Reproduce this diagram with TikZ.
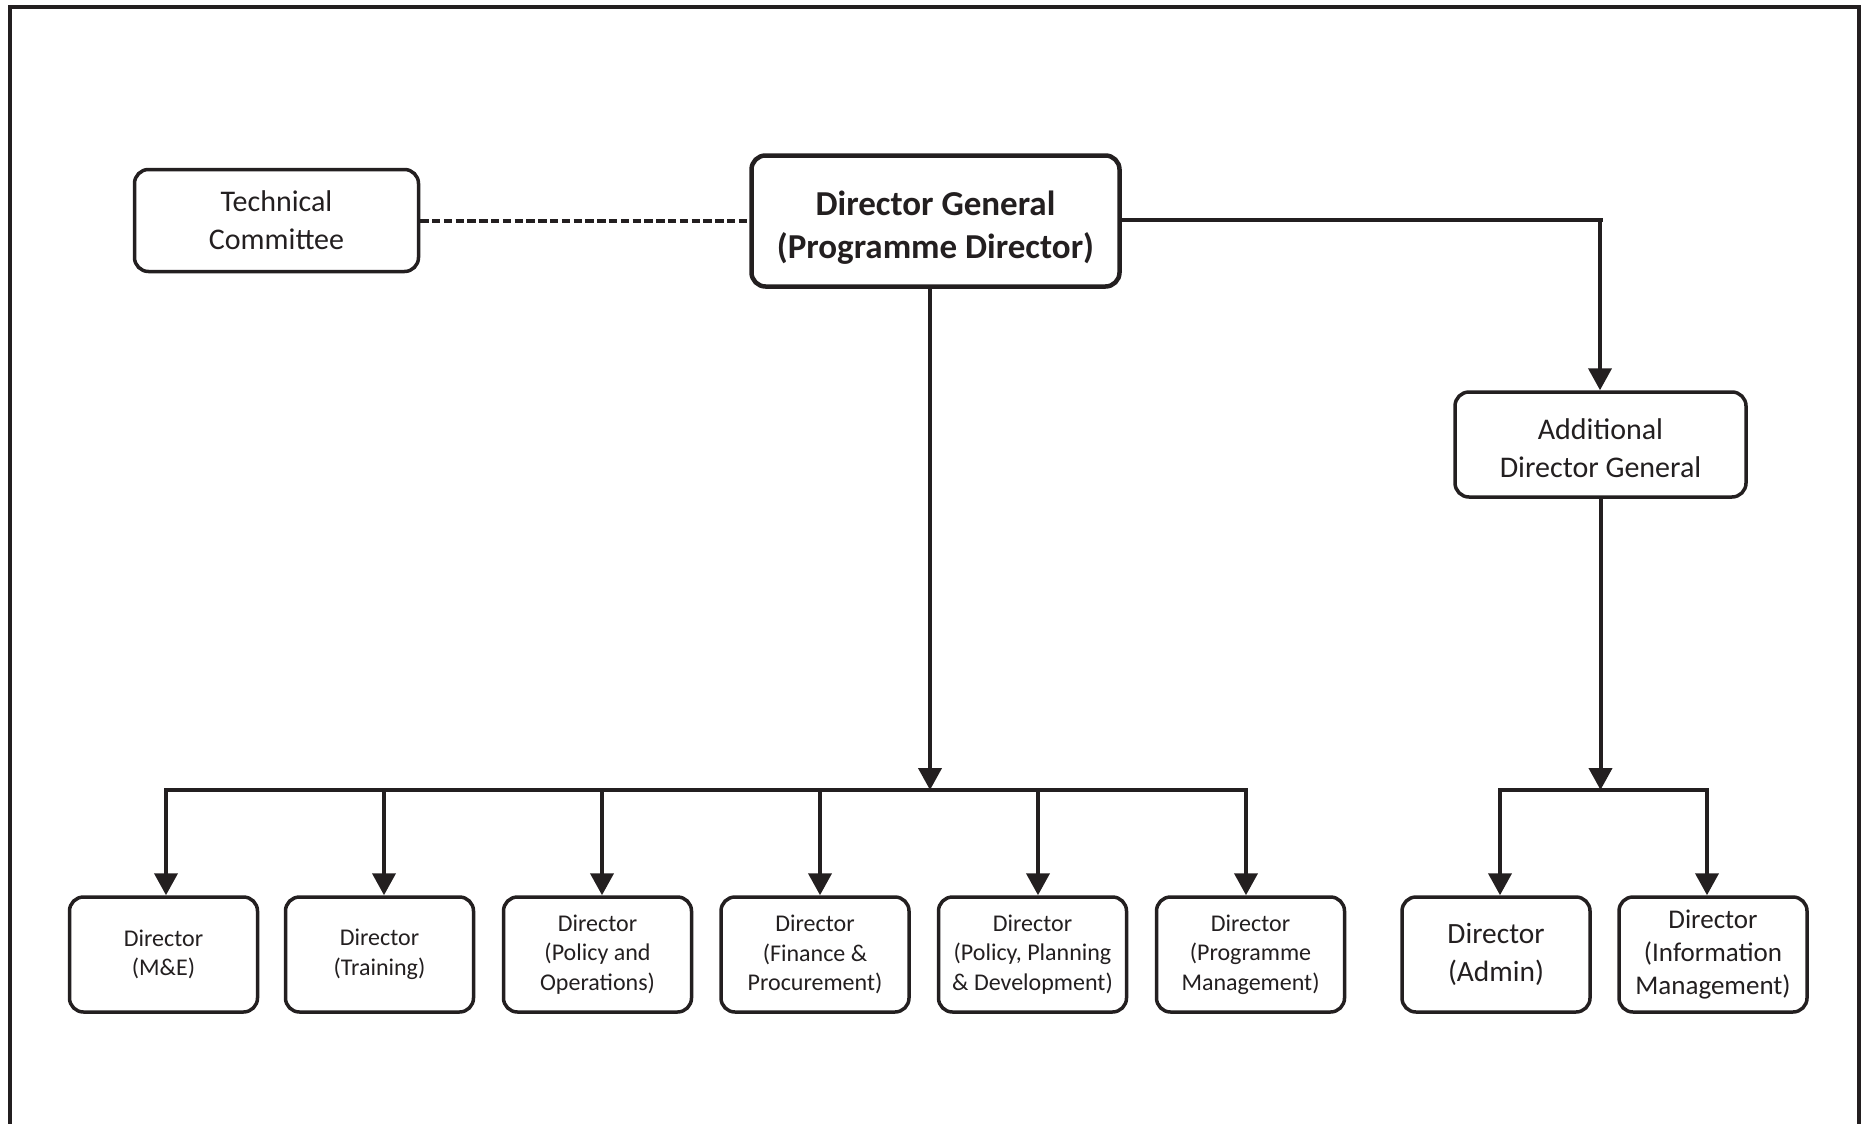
\documentclass[tikz,border=0pt]{standalone}
\usepackage{fontspec}
\setmainfont{Carlito}
\usetikzlibrary{arrows.meta}
\definecolor{ink}{RGB}{35,31,32}
\begin{document}
\begin{tikzpicture}[x=0.5pt,y=-0.5pt,
  box/.style={draw=ink, line width=1.75pt, rounded corners=7pt, align=center, text=ink, inner sep=0pt, fill=white},
  smallbox/.style={box, minimum width=94pt, minimum height=57.5pt, font=\fontsize{12}{14.85}\selectfont},
  conn/.style={draw=ink, line width=2pt},
  arr/.style={conn, -{Triangle[width=11.5pt,length=11pt]}},
  dashconn/.style={draw=ink, line width=2pt, dash pattern=on 4.2pt off 1.7pt}
]
\useasboundingbox (0,0) rectangle (1863,1124);
\draw[ink, line width=2pt] (9.7,1135) -- (9.7,7) -- (1859,7) -- (1859,1135);

\node[box, minimum width=142pt, minimum height=51pt, font=\fontsize{15}{19}\selectfont] (tc) at (276.5,220.5) {Technical\\Committee};
\node[box, line width=2.25pt, minimum width=184pt, minimum height=65.5pt] (dg) at (935.5,221) {};
\node[align=center, text=ink, inner sep=0pt, font=\fontsize{17.5}{21.4}\selectfont\bfseries] (dgtext) at ([yshift=-3.5pt]dg.center) {Director General\\(Programme Director)};
\node[box, minimum width=145.5pt, minimum height=52.5pt] (adg) at (1600.5,444.5) {};
\node[align=center, text=ink, inner sep=0pt, font=\fontsize{15}{19}\selectfont] (adgtext) at ([yshift=-1.8pt]adg.center) {Additional\\Director General};

\node[smallbox] (b1) at (163.5,954.5) {Director\\(M\&E)};
\node[smallbox] (b2) at (379.5,954.5) {Director\\(Training)};
\node[smallbox] (b3) at (597.5,954.5) {Director\\(Policy and\\Operations)};
\node[smallbox] (b4) at (815,954.5) {Director\\(Finance \&\\Procurement)};
\node[smallbox] (b5) at (1032.5,954.5) {Director\\(Policy, Planning\\\& Development)};
\node[smallbox] (b6) at (1250.5,954.5) {Director\\(Programme\\Management)};
\node[smallbox, font=\fontsize{14.7}{19}\selectfont] (b7) at (1496,954.5) {Director\\(Admin)};
\node[smallbox, font=\fontsize{13.5}{16.6}\selectfont] (b8) at (1713,954.5) {Director\\(Information\\Management)};

\coordinate (bus1) at (930,790);
\coordinate (bus2) at (1600.5,790);
\coordinate (a1) at (166,790);
\coordinate (a2) at (384,790);
\coordinate (a3) at (602,790);
\coordinate (a4) at (820,790);
\coordinate (a5) at (1038,790);
\coordinate (a6) at (1246,790);
\coordinate (a7) at (1500,790);
\coordinate (a8) at (1707,790);
\coordinate (rt) at (1600,220);

\draw[dashconn] (tc.east) -- (tc.east -| dg.west);
\draw[conn] (dg.east |- rt) -- ([xshift=1.5pt]rt);
\draw[arr] (rt) -- (rt |- adg.north);
\draw[arr] (dg.south -| bus1) -- (bus1);
\draw[conn, line cap=rect] (a1) -- (a6);
\foreach \i in {1,...,6} \draw[arr] (a\i) -- (a\i |- b\i.north);
\draw[arr] (adg.south) -- (bus2);
\draw[conn, line cap=rect] (a7) -- (a8);
\foreach \i in {7,8} \draw[arr] (a\i) -- (a\i |- b\i.north);
\end{tikzpicture}
\end{document}
